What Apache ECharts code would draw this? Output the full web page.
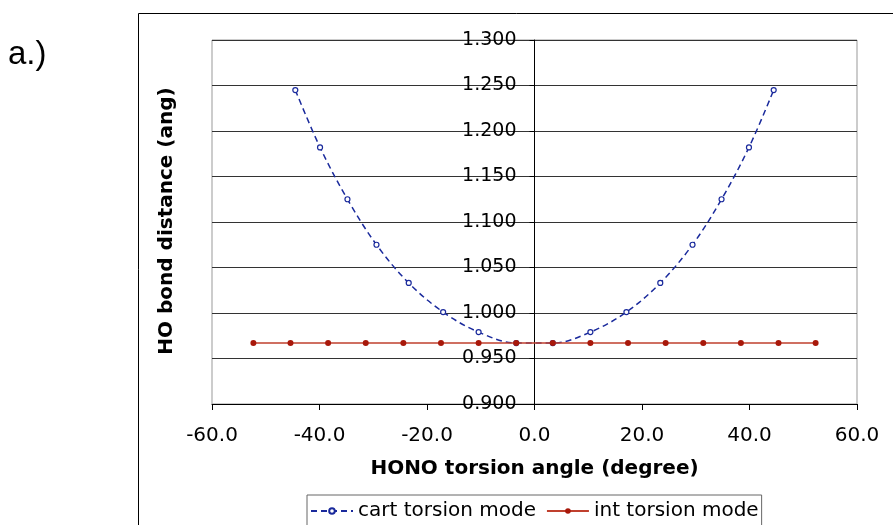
<!DOCTYPE html>
<html>
<head>
<meta charset="utf-8">
<script src="https://cdn.jsdelivr.net/npm/echarts@6/dist/echarts.min.js"></script>
<style>
  html, body { margin:0; padding:0; background:#fff; }
  #chart { width:893px; height:525px; }
</style>
</head>
<body>
<div id="chart"></div>
<script>
// ===== data =====
const cartX = [-44.5, -39.9, -34.8, -29.4, -23.4, -17.0, -10.4, -3.4, 3.4, 10.4, 17.1, 23.4, 29.4, 34.8, 39.9, 44.5];
const cartY = [1.245, 1.182, 1.125, 1.075, 1.033, 1.001, 0.979, 0.967, 0.967, 0.979, 1.001, 1.033, 1.075, 1.125, 1.182, 1.245];
const intX  = [-52.3, -45.4, -38.4, -31.4, -24.4, -17.4, -10.4, -3.4, 3.4, 10.4, 17.4, 24.4, 31.4, 38.4, 45.4, 52.3];
const intY  = [0.967, 0.967, 0.967, 0.967, 0.967, 0.967, 0.967, 0.967, 0.967, 0.967, 0.967, 0.967, 0.967, 0.967, 0.967, 0.967];

const seriesNames = ['cart torsion mode', 'int torsion mode'];
const xTitle = 'HONO torsion angle (degree)';
const yTitle = 'HO bond distance (ang)';
const panelLabel = 'a.)';

const zip = (xs, ys) => xs.map((x, i) => [x, ys[i]]);
const FONT = 'DejaVu Sans';

// grid box in px
const G = { left: 212, right: 36, top: 40, bottom: 121 };
const plotW = 893 - G.left - G.right;
// y axis sits where x = 0 (x range -60..60)
const yAxisShift = plotW * (0 - (-60)) / 120;

const chart = echarts.init(document.getElementById('chart'), null, { renderer:'canvas' });

chart.setOption({
  animation: false,
  backgroundColor: '#fff',
  textStyle: { fontFamily: FONT, color: '#000' },
  grid: {
    left: G.left, right: G.right, top: G.top, bottom: G.bottom,
    show: true, borderColor: '#999', borderWidth: 1, backgroundColor: '#fff'
  },
  graphic: [
    // outer chart frame
    { type:'rect', shape:{ x:138.5, y:13.5, width:800, height:600 },
      style:{ fill:'none', stroke:'#000', lineWidth:1 }, z:-1 },
    { type:'text', left:8, top:38,
      style:{ text:panelLabel, font:'33px "Liberation Sans", Arial, sans-serif', fill:'#000' } },
    { type:'text', x:167, y:221, rotation:Math.PI/2,
      style:{ text:yTitle, font:'bold 20px "DejaVu Sans"', fill:'#000',
              align:'center', verticalAlign:'middle' } }
  ],
  legend: {
    left: 307, top: 495,
    padding: [6, 3, 10, 3],
    borderColor: '#666', borderWidth: 1,
    itemWidth: 42, itemHeight: 7, itemGap: 10,
    textStyle: { fontFamily: FONT, fontSize: 20, color: '#000' },
    data: seriesNames
  },
  xAxis: {
    type: 'value', min: -60, max: 60, interval: 20,
    name: xTitle, nameLocation: 'middle', nameGap: 55,
    nameTextStyle: { fontFamily: FONT, fontSize: 20, fontWeight: 'bold', color: '#000' },
    axisLine: { onZero: false, lineStyle: { color: '#000', width: 1 } },
    axisTick: { show: true, length: 6, lineStyle: { color: '#000' } },
    axisLabel: { fontFamily: FONT, fontSize: 20, color: '#000', margin: 22,
                 formatter: v => v.toFixed(1) },
    splitLine: { show: false }
  },
  yAxis: {
    type: 'value', min: 0.9, max: 1.3, interval: 0.05,
    position: 'left', offset: -yAxisShift,
    axisLine: { show: true, onZero: false, lineStyle: { color: '#000', width: 1 } },
    axisTick: { show: true, length: 5, lineStyle: { color: '#000' } },
    axisLabel: { fontFamily: FONT, fontSize: 19, color: '#000', margin: 18,
                 formatter: v => v.toFixed(3) },
    splitLine: { show: true, lineStyle: { color: '#333', width: 1 } }
  },
  series: [
    {
      name: seriesNames[0], type: 'line', smooth: 0.35,
      data: zip(cartX, cartY),
      symbol: 'circle', symbolSize: 5,
      lineStyle: { color: '#1a2a9c', width: 1.5, type: [6, 4] },
      itemStyle: { color: '#fff', borderColor: '#1a2a9c', borderWidth: 1.2 },
      z: 2
    },
    {
      name: seriesNames[1], type: 'line',
      data: zip(intX, intY),
      symbol: 'circle', symbolSize: 6,
      lineStyle: { color: '#c0402e', width: 1.5 },
      itemStyle: { color: '#a8180a' },
      z: 3
    }
  ]
});
</script>
</body>
</html>
